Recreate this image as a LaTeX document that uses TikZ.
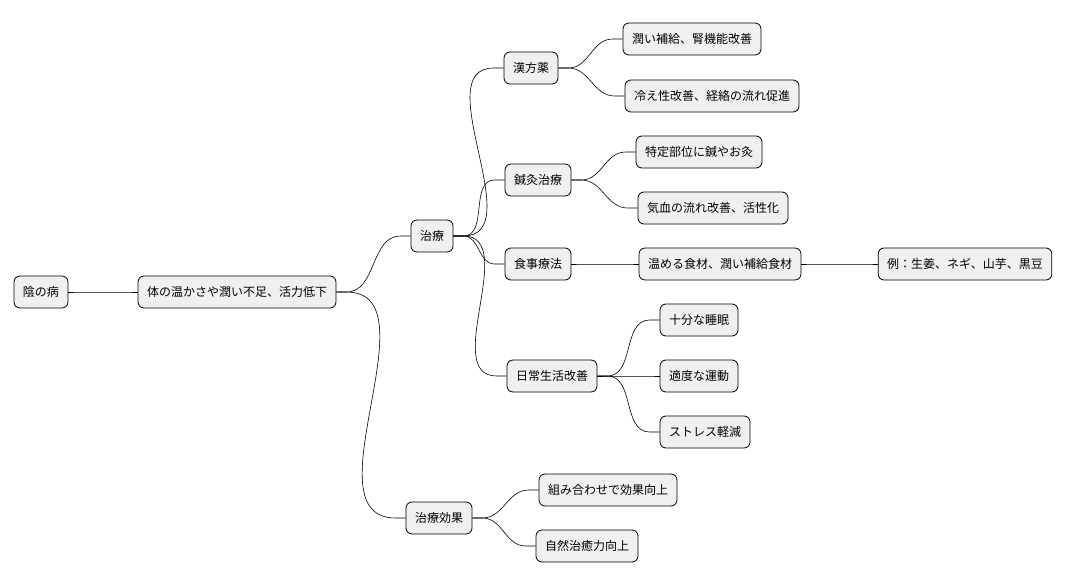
\documentclass[tikz,border=0pt]{standalone}
\usepackage{fontspec}
\setmainfont{Noto Sans CJK JP}
\begin{document}
\begin{tikzpicture}
[x=1pt,y=-1pt, nodeDecorate/.style={draw,fill=gray!12,rounded corners=6pt,line width=0.8pt,
  minimum height=32pt,inner xsep=9pt,font=\fontsize{12}{14}\selectfont},
 lineDecorate/.style={line width=0.6pt}]
\useasboundingbox (0,0) rectangle (1076,583);

 \foreach \nodename/\x/\y/\txt in {
root/41/292/陰の病,
base/237/292/体の温かさや潤い不足、活力低下,
cure/432/236/治療,
eff/439/518/治療効果,
kampo/531/68/漢方薬,
acu/538/180/鍼灸治療,
diet/538/264/食事療法,
life/552/376/日常生活改善,
kA/692/39/潤い補給、腎機能改善,
kB/712/96/冷え性改善、経絡の流れ促進,
aA/699/152/特定部位に鍼やお灸,
aB/713/208/気血の流れ改善、活性化,
dA/720/264/温める食材、潤い補給食材,
dB/965/264/例：生姜、ネギ、山芋、黒豆,
lA/699/320/十分な睡眠,
lB/699/376/適度な運動,
lC/705/432/ストレス軽減,
eA/608/490/組み合わせで効果向上,
eB/587/546/自然治癒力向上
 }
 {
          \node[nodeDecorate] (\nodename) at (\x,\y) {\txt};
 }

\foreach \startnode/\endnode in {root/base,base/cure,base/eff,cure/kampo,cure/acu,cure/diet,cure/life,
  kampo/kA,kampo/kB,acu/aA,acu/aB,diet/dA,dA/dB,life/lA,life/lB,life/lC,eff/eA,eff/eB}
        {
          \draw[lineDecorate] (\startnode.east) -- ++(10,0)
            to[out=0,in=180] ([xshift=-10pt]\endnode.west) -- (\endnode.west);
        }
\end{tikzpicture}
\end{document}
